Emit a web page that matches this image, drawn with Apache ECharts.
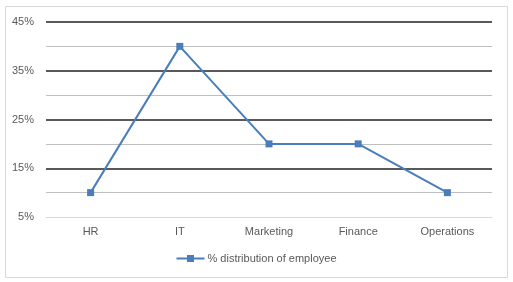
<!DOCTYPE html>
<html><head><meta charset="utf-8">
<script src="https://cdn.jsdelivr.net/npm/echarts@6/dist/echarts.min.js"></script>
<style>html,body{margin:0;padding:0;background:#fff}#c{width:513px;height:282px}</style>
</head><body><div id="c"></div>
<script>
const categories = ['HR', 'IT', 'Marketing', 'Finance', 'Operations'];
const employeeShare = [10, 40, 20, 20, 10];
const seriesName = '% distribution of employee';
const yTicks = [5, 15, 25, 35, 45];

const chart = echarts.init(document.getElementById('c'), null, {renderer: 'canvas'});
const font = 'Liberation Sans, Arial, sans-serif';
chart.setOption({
  animation: false,
  backgroundColor: '#fff',
  graphic: [{
    type: 'rect', shape: {x: 5.5, y: 6.5, width: 502, height: 271},
    style: {fill: 'none', stroke: '#d9d9d9', lineWidth: 1}, silent: true, z: -1
  }],
  grid: {left: 46, right: 21, top: 22, bottom: 65},
  legend: {
    data: [seriesName], bottom: 13, left: 'center', itemGap: 4,
    itemWidth: 28, itemHeight: 7,
    icon: 'path://M0,2.5 L10.5,2.5 L10.5,0 L17.5,0 L17.5,2.5 L28,2.5 L28,4.5 L17.5,4.5 L17.5,7 L10.5,7 L10.5,4.5 L0,4.5 Z',
    textStyle: {fontFamily: font, fontSize: 11, color: '#595959', padding: [0, 0, 0, -2]}
  },
  xAxis: {
    type: 'category', data: categories, boundaryGap: true,
    axisLine: {lineStyle: {color: '#d9d9d9', width: 1}},
    axisTick: {show: false},
    axisLabel: {fontFamily: font, fontSize: 11, color: '#595959', margin: 9}
  },
  yAxis: {
    type: 'value', min: yTicks[0], max: yTicks[yTicks.length - 1], interval: 10,
    axisLine: {show: false}, axisTick: {show: false},
    axisLabel: {fontFamily: font, fontSize: 11, color: '#595959', margin: 12,
      formatter: v => v + '%'},
    splitLine: {show: true, showMinLine: false, lineStyle: {color: '#595959', width: 2}},
    minorTick: {show: false, splitNumber: 2},
    minorSplitLine: {show: true, lineStyle: {color: '#bfbfbf', width: 1}}
  },
  series: [{
    name: seriesName, type: 'line', data: employeeShare,
    symbol: 'rect', symbolSize: 7,
    lineStyle: {color: '#4a7ebb', width: 2},
    itemStyle: {color: '#4a7ebb'}
  }]
});
</script></body></html>
